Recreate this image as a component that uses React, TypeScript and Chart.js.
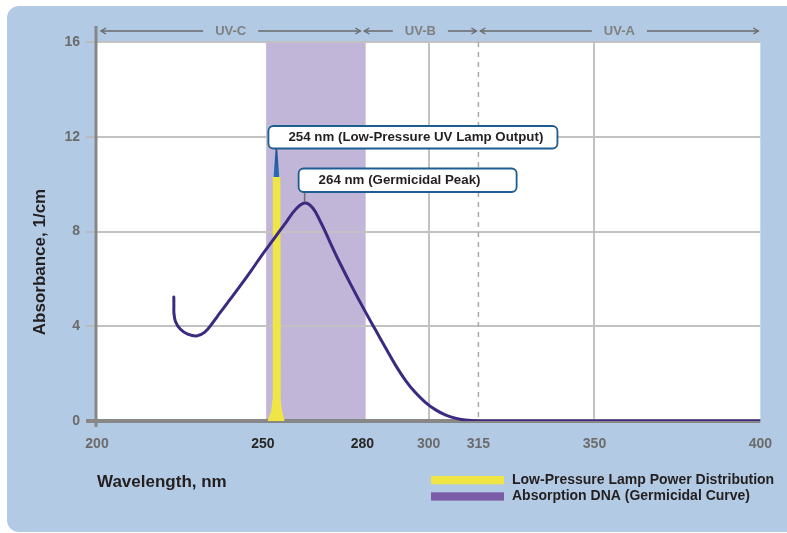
import { useEffect, useRef } from 'react';
import { Chart, registerables } from 'chart.js';

Chart.register(...registerables);

// ---------- data ----------
const xTickValues = [200, 250, 280, 300, 315, 350, 400];
const xTickEmphasis = [250, 280];
const yTickValues = [0, 4, 8, 12, 16];

const dnaWavelength = [223.16, 223.18, 223.2, 223.68, 225.17, 227.2, 230, 232.5, 235, 237, 240, 243, 246.5, 250, 253.5, 257, 259.8, 262.6, 265, 267.5, 270, 272.6, 276.5, 280.6, 284, 287, 290, 293, 296, 299, 302, 305, 308, 311, 314, 317, 330, 350, 375, 400];
const dnaAbsorbance = [5.23, 4.9, 4.56, 4.19, 3.87, 3.68, 3.59, 3.75, 4.17, 4.55, 5.11, 5.67, 6.35, 7.06, 7.72, 8.39, 8.92, 9.2, 9.0, 8.38, 7.63, 6.85, 5.77, 4.69, 3.84, 3.09, 2.36, 1.72, 1.2, 0.79, 0.48, 0.26, 0.12, 0.04, 0.01, 0, 0, 0, 0, 0];

const lampWavelength = [251.4, 252.5, 252.9, 253.0, 255.3, 255.4, 255.8, 256.6];
const lampPower = [0, 0.4, 0.9, 10.3, 10.3, 0.9, 0.4, 0];

const regionNames = ['UV-C', 'UV-B', 'UV-A'];
const regionBounds = [200, 280, 315, 400];
const germicidalBand = [251, 281];
const gridSolid = [300, 350];
const gridDashed = [315];

const calloutTexts = ['254 nm (Low-Pressure UV Lamp Output)', '264 nm (Germicidal Peak)'];
const calloutWavelengths = [254.1, 262.6];
const calloutValues = [10.3, 9.2];

const legendLabels = ['Low-Pressure Lamp Power Distribution', 'Absorption DNA (Germicidal Curve)'];

// ---------- styles ----------
const FONT = '"Liberation Sans", Arial, Helvetica, sans-serif';
const YELLOW = '#efe645';
const CURVE = '#3c2a80';
const LEGEND_PURPLE = '#7a5ca6';
const BAND = '#c1b5d8';
const PANEL = '#b3cae4';
const DARK = '#231f20';
const GRAY_TEXT = '#6b6b6b';
const AXIS = '#878787';

function roundRect(ctx: CanvasRenderingContext2D, x: number, y: number, w: number, h: number, r: number) {
  ctx.beginPath();
  ctx.moveTo(x + r, y);
  ctx.lineTo(x + w - r, y);
  ctx.arcTo(x + w, y, x + w, y + r, r);
  ctx.lineTo(x + w, y + h - r);
  ctx.arcTo(x + w, y + h, x + w - r, y + h, r);
  ctx.lineTo(x + r, y + h);
  ctx.arcTo(x, y + h, x, y + h - r, r);
  ctx.lineTo(x, y + r);
  ctx.arcTo(x, y, x + r, y, r);
  ctx.closePath();
}

function arrowHead(ctx: CanvasRenderingContext2D, tipX: number, y: number, dir: number) {
  ctx.beginPath();
  ctx.moveTo(tipX - dir * 5, y - 3);
  ctx.lineTo(tipX, y);
  ctx.lineTo(tipX - dir * 5, y + 3);
  ctx.stroke();
}

const decor = {
  id: 'decor',
  beforeDraw(chart: any) {
    const { ctx, chartArea: a, scales } = chart;
    const x = scales.x;
    ctx.save();
    ctx.fillStyle = '#ffffff';
    ctx.fillRect(0, 0, chart.width, chart.height);
    ctx.fillStyle = PANEL;
    roundRect(ctx, 7, 6, 800, 526, 12);
    ctx.fill();
    ctx.fillStyle = '#ffffff';
    ctx.fillRect(a.left, a.top, a.right - a.left, a.bottom - a.top);
    const b0 = x.getPixelForValue(germicidalBand[0]);
    const b1 = x.getPixelForValue(germicidalBand[1]);
    ctx.fillStyle = BAND;
    ctx.fillRect(b0, a.top, b1 - b0, a.bottom - a.top);
    ctx.restore();
  },
  beforeDatasetsDraw(chart: any) {
    const { ctx, chartArea: a, scales } = chart;
    const x = scales.x;
    ctx.save();
    ctx.strokeStyle = '#a8a8a8';
    ctx.lineWidth = 1.5;
    ctx.setLineDash([5, 5]);
    gridDashed.forEach((v) => {
      const px = x.getPixelForValue(v);
      ctx.beginPath();
      ctx.moveTo(px, a.top);
      ctx.lineTo(px, a.bottom);
      ctx.stroke();
    });
    ctx.setLineDash([]);
    ctx.strokeStyle = AXIS;
    ctx.lineWidth = 4;
    ctx.beginPath();
    ctx.moveTo(a.left - 11, a.bottom);
    ctx.lineTo(a.right, a.bottom);
    ctx.stroke();
    ctx.lineWidth = 3;
    ctx.beginPath();
    ctx.moveTo(a.left - 1, 26);
    ctx.lineTo(a.left - 1, a.bottom + 6);
    ctx.stroke();
    ctx.restore();
  },
  afterDatasetsDraw(chart: any) {
    const { ctx, chartArea: a, scales } = chart;
    const x = scales.x;
    const y = scales.y;
    ctx.save();

    // region arrows
    const ry = 31;
    ctx.font = `bold 13px ${FONT}`;
    ctx.textAlign = 'center';
    ctx.textBaseline = 'middle';
    ctx.strokeStyle = '#6a6a6a';
    ctx.lineWidth = 1.4;
    regionNames.forEach((name, i) => {
      const p0 = x.getPixelForValue(regionBounds[i]) + (i === 0 ? 4 : 2);
      const p1 = x.getPixelForValue(regionBounds[i + 1]) - 2;
      const mid = (p0 + p1) / 2;
      const tw = ctx.measureText(name).width;
      const g0 = mid - tw / 2 - 12;
      const g1 = mid + tw / 2 + 12;
      ctx.beginPath();
      ctx.moveTo(p0, ry);
      ctx.lineTo(g0, ry);
      ctx.moveTo(g1, ry);
      ctx.lineTo(p1, ry);
      ctx.stroke();
      arrowHead(ctx, p0, ry, -1);
      arrowHead(ctx, p1, ry, 1);
      ctx.fillStyle = '#7f7f7f';
      ctx.fillText(name, mid, ry);
    });

    // callout 1: lamp output
    const c1x = x.getPixelForValue(calloutWavelengths[0]);
    const c1y = y.getPixelForValue(calloutValues[0]);
    const box1 = { left: c1x - 8, top: 126, w: 289, h: 22.5 };
    const grad = ctx.createLinearGradient(0, box1.top + box1.h, 0, c1y);
    grad.addColorStop(0, '#1d4f96');
    grad.addColorStop(1, '#2a6db4');
    ctx.fillStyle = grad;
    ctx.beginPath();
    ctx.moveTo(c1x - 0.8, box1.top + box1.h);
    ctx.lineTo(c1x + 0.8, box1.top + box1.h);
    ctx.lineTo(c1x + 2.8, c1y);
    ctx.lineTo(c1x - 2.8, c1y);
    ctx.closePath();
    ctx.fill();

    // callout 2: germicidal peak
    const c2x = x.getPixelForValue(calloutWavelengths[1]);
    const c2y = y.getPixelForValue(calloutValues[1]);
    const box2 = { left: c2x - 6, top: 168.5, w: 218, h: 23.5 };
    ctx.strokeStyle = '#6d6d6d';
    ctx.lineWidth = 1.5;
    ctx.beginPath();
    ctx.moveTo(c2x, box2.top + box2.h);
    ctx.lineTo(c2x, c2y - 1);
    ctx.stroke();

    [box1, box2].forEach((b, i) => {
      roundRect(ctx, b.left, b.top, b.w, b.h, 5);
      ctx.fillStyle = '#ffffff';
      ctx.fill();
      ctx.strokeStyle = '#1f5c8f';
      ctx.lineWidth = 1.8;
      ctx.stroke();
      ctx.fillStyle = DARK;
      ctx.font = `bold 13.3px ${FONT}`;
      ctx.textAlign = 'left';
      ctx.textBaseline = 'middle';
      ctx.fillText(calloutTexts[i], b.left + 20, b.top + b.h / 2 + 0.5);
    });

    // axis titles
    ctx.fillStyle = DARK;
    ctx.font = `bold 17px ${FONT}`;
    ctx.textAlign = 'left';
    ctx.textBaseline = 'middle';
    ctx.fillText('Wavelength, nm', a.left, 482);
    ctx.save();
    ctx.translate(40, 262);
    ctx.rotate(-Math.PI / 2);
    ctx.textAlign = 'center';
    ctx.fillText('Absorbance, 1/cm', 0, 0);
    ctx.restore();

    // legend
    const legendColors = [YELLOW, LEGEND_PURPLE];
    const rows = [476, 492.3];
    ctx.font = `bold 14px ${FONT}`;
    legendLabels.forEach((label, i) => {
      ctx.fillStyle = legendColors[i];
      ctx.fillRect(431, rows[i], 73, 8.3);
      ctx.fillStyle = DARK;
      ctx.textAlign = 'left';
      ctx.textBaseline = 'middle';
      ctx.fillText(label, 512, rows[i] + 4.3);
    });

    ctx.restore();
  },
};

export default function App() {
  const ref = useRef<HTMLCanvasElement>(null);
  useEffect(() => {
    if (!ref.current) return;
    Chart.defaults.font.family = FONT;
    const chart = new Chart(ref.current, {
      type: 'line',
      data: {
        datasets: [
          {
            label: legendLabels[1],
            data: dnaWavelength.map((w, i) => ({ x: w, y: dnaAbsorbance[i] })),
            borderColor: CURVE,
            borderWidth: 3,
            pointRadius: 0,
            fill: false,
            tension: 0.4,
            borderCapStyle: 'round',
            borderJoinStyle: 'round',
            order: 0,
          },
          {
            label: legendLabels[0],
            data: lampWavelength.map((w, i) => ({ x: w, y: lampPower[i] })),
            borderWidth: 0,
            borderColor: YELLOW,
            backgroundColor: YELLOW,
            pointRadius: 0,
            fill: 'origin',
            tension: 0,
            order: 1,
          },
        ],
      },
      options: {
        animation: false,
        responsive: false,
        events: [],
        layout: { padding: { top: 42, right: 25, left: 0, bottom: 0 } },
        plugins: {
          legend: { display: false },
          tooltip: { enabled: false },
        },
        scales: {
          x: {
            type: 'linear',
            min: 200,
            max: 400,
            afterBuildTicks: (scale: any) => {
              scale.ticks = xTickValues.map((v) => ({ value: v }));
            },
            afterFit: (scale: any) => {
              scale.height = 112;
            },
            border: { display: false },
            grid: {
              drawTicks: false,
              lineWidth: 2,
              color: (c: any) => (gridSolid.includes(c.tick?.value) ? '#c2c2c2' : 'rgba(0,0,0,0)'),
            },
            ticks: {
              padding: 15,
              autoSkip: false,
              maxRotation: 0,
              font: { size: 14, weight: 'bold' },
              color: (c: any) => (xTickEmphasis.includes(c.tick?.value) ? '#262626' : GRAY_TEXT),
            },
          },
          y: {
            type: 'linear',
            min: 0,
            max: 16,
            afterBuildTicks: (scale: any) => {
              scale.ticks = yTickValues.map((v) => ({ value: v }));
            },
            afterFit: (scale: any) => {
              scale.width = 97;
            },
            border: { display: false },
            grid: {
              lineWidth: 2,
              tickLength: 11,
              tickWidth: 1.5,
              tickColor: '#b5b5b5',
              color: (c: any) => (c.tick?.value === 0 ? 'rgba(0,0,0,0)' : '#c2c2c2'),
            },
            ticks: {
              padding: 6,
              font: { size: 14, weight: 'bold' },
              color: GRAY_TEXT,
            },
          },
        },
      } as any,
      plugins: [decor],
    });
    return () => chart.destroy();
  }, []);

  return (
    <div style={{ position: 'fixed', left: 0, top: 0, width: 787, height: 533 }}>
      <canvas ref={ref} width={787} height={533} style={{ display: 'block', width: 787, height: 533 }} />
    </div>
  );
}
